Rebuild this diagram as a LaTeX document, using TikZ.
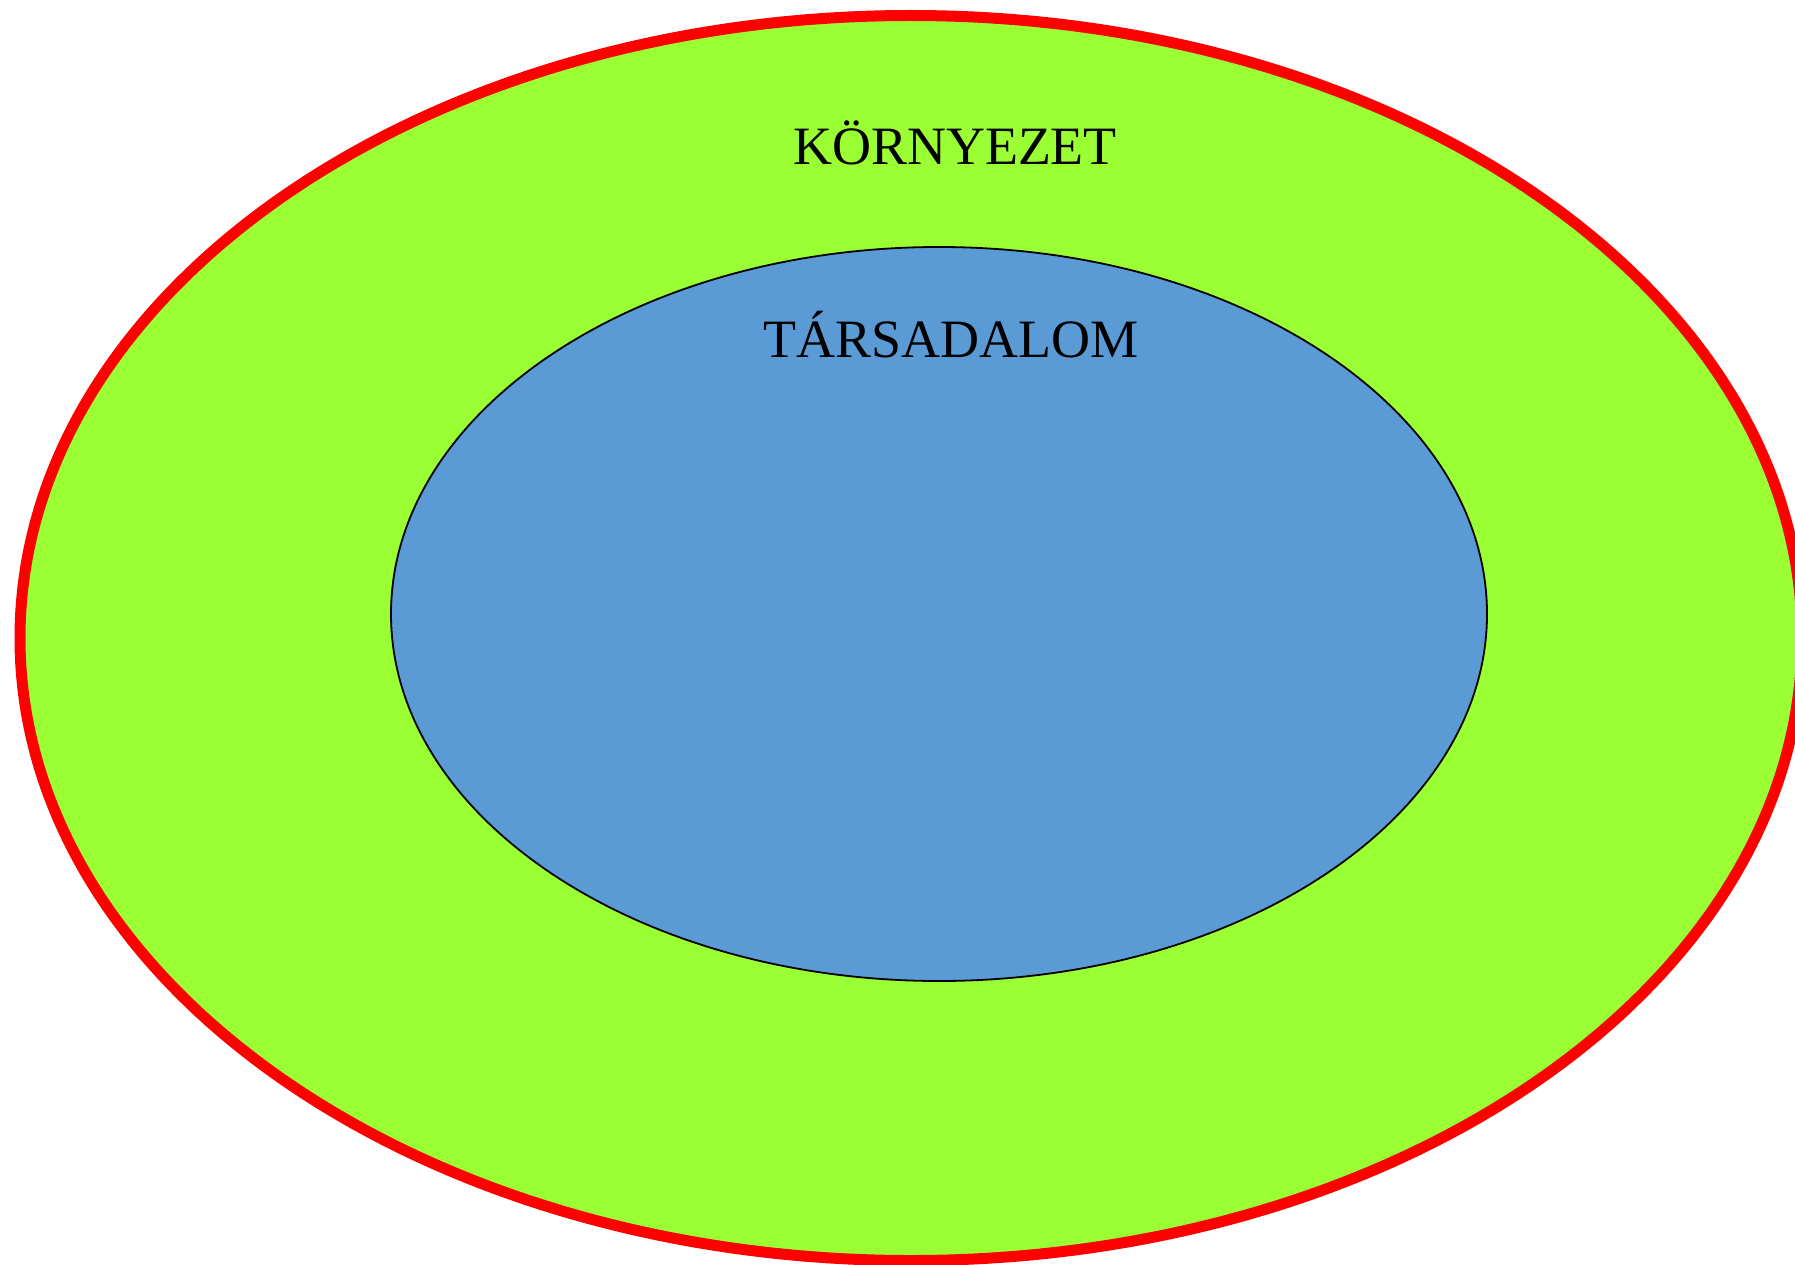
\documentclass[tikz,border=0pt]{standalone}
\usepackage{fontspec}
\setmainfont{Liberation Serif}
\usetikzlibrary{shapes.geometric}
\definecolor{envgreen}{RGB}{154,255,51}
\definecolor{socblue}{RGB}{91,155,213}
\definecolor{envred}{RGB}{255,0,0}
\tikzset{
  outerell/.style={ellipse, draw=envred, fill=envgreen, line width=11pt, inner sep=0pt, minimum width=1782pt, minimum height=1245pt},
  innerell/.style={ellipse, draw=black, fill=socblue, line width=1.8pt, inner sep=0pt, minimum width=1096pt, minimum height=734pt},
  lbl/.style={anchor=base, inner sep=0pt, font=\fontsize{54}{60}\selectfont}
}
\begin{document}
\begin{tikzpicture}[x=1pt,y=-1pt]
\useasboundingbox (0,0) rectangle (1795,1265);
\clip (0,0) rectangle (1795,1265);
\node[outerell] (env) at (911,638) {};
\node[innerell] (soc) at (939,614) {};
\node[lbl] (envlbl) at (955,165) {KÖRNYEZET};
\node[lbl] (soclbl) at (951,357) {TÁRSADALOM};
\end{tikzpicture}
\end{document}
